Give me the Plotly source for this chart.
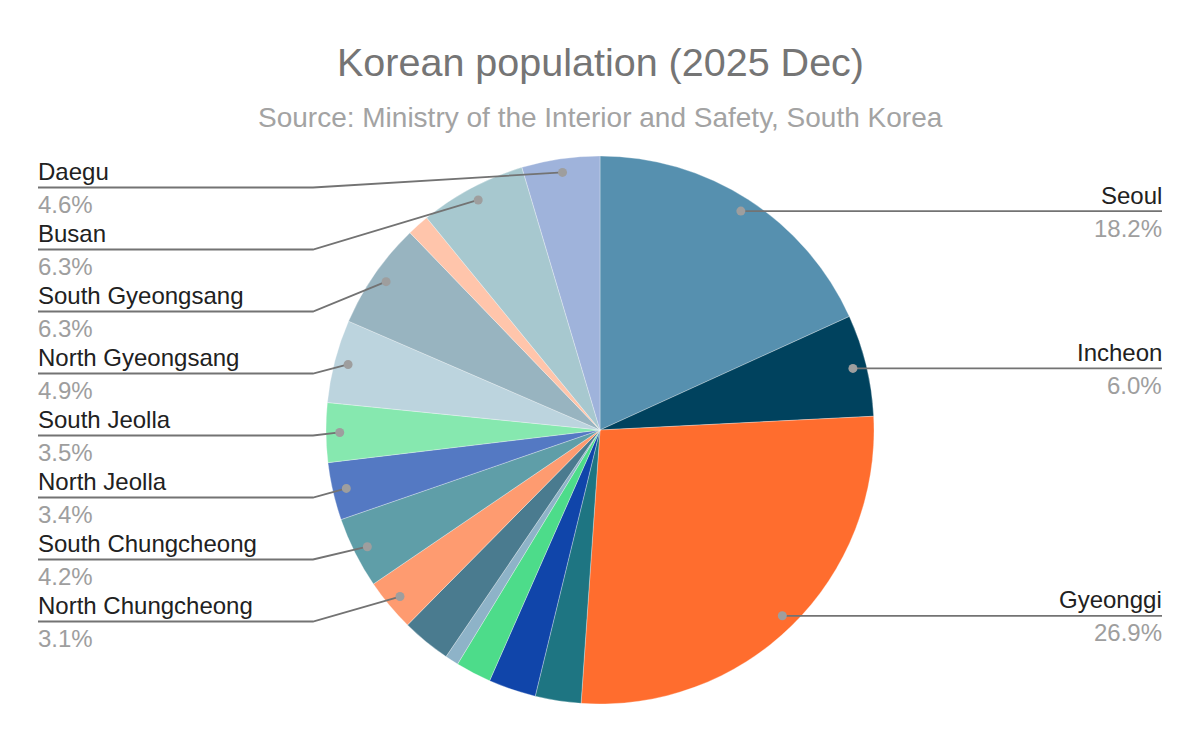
import math
import plotly.graph_objects as go

# ---- data ----
regions = ["Seoul", "Incheon", "Gyeonggi", "Gwangju", "Daejeon", "Ulsan", "Sejong", "Gangwon",
           "North Chungcheong", "South Chungcheong", "North Jeolla", "South Jeolla",
           "North Gyeongsang", "South Gyeongsang", "Jeju", "Busan", "Daegu"]
shares = [18.2, 6.0, 26.9, 2.7, 2.8, 2.1, 0.8, 2.9,
          3.1, 4.2, 3.4, 3.5, 4.9, 6.3, 1.3, 6.3, 4.6]
colors = ["#5690af", "#00425e", "#ff6d2e", "#1e7582", "#1045aa", "#4ddc8a", "#8eb3c8", "#4a7b8f",
          "#fe9b70", "#5f9ea8", "#5479c3", "#86e8af", "#bcd4de", "#98b4c0", "#ffc5ab", "#a7c8cf", "#9fb3db"]
right_labeled = ["Seoul", "Incheon", "Gyeonggi"]
left_labeled = ["Daegu", "Busan", "South Gyeongsang", "North Gyeongsang",
                "South Jeolla", "North Jeolla", "South Chungcheong", "North Chungcheong"]
title_text = "Korean population (2025 Dec)"
subtitle_text = "Source: Ministry of the Interior and Safety, South Korea"

# ---- geometry (pixels) ----
W, H = 1200, 742
CX, CY, R = 600, 430, 274
ANCHOR_R = 0.95 * R
FONT = "Liberation Sans, Arial, sans-serif"


def px(x):
    return x / W


def py(y):
    return 1 - y / H


total = sum(shares)
mid = {}
cum = 0.0
for name, v in zip(regions, shares):
    mid[name] = (cum + v / 2) / total * 2 * math.pi
    cum += v
pct = {n: v / total * 100 for n, v in zip(regions, shares)}


def anchor(name):
    a = mid[name]
    return CX + ANCHOR_R * math.sin(a), CY - ANCHOR_R * math.cos(a)


fig = go.Figure(go.Pie(
    labels=regions, values=shares, sort=False, direction="clockwise", rotation=0,
    marker=dict(colors=colors, line=dict(color="rgba(255,255,255,0.5)", width=0.6)),
    textinfo="none", hoverinfo="label+percent", showlegend=False,
    domain=dict(x=[px(CX - R), px(CX + R)], y=[py(CY + R), py(CY - R)]),
))

shapes = []
annotations = []
LINE_COL = "#737373"
DOT_COL = "#9e9e9e"
NAME_COL = "#212121"
PCT_COL = "#9e9e9e"
DOT_R = 4.5


def dot(x, y):
    shapes.append(dict(type="circle", xref="paper", yref="paper",
                       x0=px(x - DOT_R), x1=px(x + DOT_R), y0=py(y + DOT_R), y1=py(y - DOT_R),
                       fillcolor=DOT_COL, line=dict(width=0)))


def labels(name, x, ly, anchor_x):
    annotations.append(dict(text=name, x=px(x), y=py(ly - 16), xref="paper", yref="paper",
                            xanchor=anchor_x, yanchor="middle", showarrow=False,
                            font=dict(family=FONT, size=24, color=NAME_COL)))
    annotations.append(dict(text=f"{pct[name]:.1f}%", x=px(x), y=py(ly + 17), xref="paper", yref="paper",
                            xanchor=anchor_x, yanchor="middle", showarrow=False,
                            font=dict(family=FONT, size=24, color=PCT_COL)))


# right side labels
RIGHT_X = 1162
for name in right_labeled:
    ax, ay = anchor(name)
    shapes.append(dict(type="line", xref="paper", yref="paper", x0=px(ax), y0=py(ay),
                       x1=px(RIGHT_X), y1=py(ay), line=dict(color=LINE_COL, width=1.8)))
    dot(ax, ay)
    labels(name, RIGHT_X + 2, ay, "right")

# left side labels
LEFT_X, ELBOW_X, TOP_Y, STEP = 38, 313, 187.5, 62
for i, name in enumerate(left_labeled):
    ax, ay = anchor(name)
    ly = TOP_Y + STEP * i
    shapes.append(dict(type="path", xref="paper", yref="paper",
                       path=f"M {px(ax)},{py(ay)} L {px(ELBOW_X)},{py(ly)} L {px(LEFT_X)},{py(ly)}",
                       line=dict(color=LINE_COL, width=1.8)))
    dot(ax, ay)
    labels(name, LEFT_X - 2, ly, "left")

annotations.append(dict(text=title_text, x=0.5, y=py(62), xref="paper", yref="paper",
                        xanchor="center", yanchor="middle", showarrow=False,
                        font=dict(family=FONT, size=39.5, color="#757575")))
annotations.append(dict(text=subtitle_text, x=0.5, y=py(117), xref="paper", yref="paper",
                        xanchor="center", yanchor="middle", showarrow=False,
                        font=dict(family=FONT, size=28, color="#a3a3a3")))

fig.update_layout(width=W, height=H, margin=dict(l=0, r=0, t=0, b=0),
                  paper_bgcolor="white", plot_bgcolor="white",
                  shapes=shapes, annotations=annotations)

fig.write_html("out.html")
